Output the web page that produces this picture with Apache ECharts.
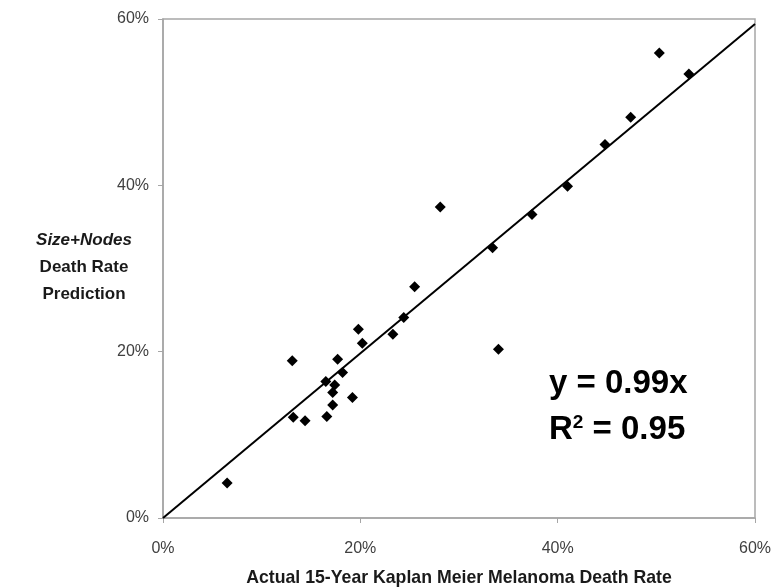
<!DOCTYPE html>
<html><head><meta charset="utf-8">
<script src="https://cdn.jsdelivr.net/npm/echarts@6/dist/echarts.min.js"></script>
<style>html,body{margin:0;padding:0;background:#fff}#c{width:774px;height:587px}</style>
</head><body><div id="c"></div>
<script>
var actual = [6.5,13.1,13.2,14.4,16.5,16.6,17.4,17.2,17.2,17.7,18.2,19.2,20.2,19.8,23.3,24.4,25.5,28.1,33.4,34.0,37.4,41.0,44.8,47.4,50.3,53.3];
var predicted = [4.2,18.9,12.1,11.7,16.4,12.2,16.0,15.1,13.6,19.1,17.5,14.5,21.0,22.7,22.1,24.1,27.8,37.4,32.5,20.3,36.5,39.9,44.9,48.2,55.9,53.4];
var slope = 0.99;
var rSquared = 0.95;
var axisTicks = [0,20,40,60];

var pts = actual.map(function(x,i){return [x,predicted[i]];});
var lineEnd = axisTicks[axisTicks.length-1];
var trend = [[0,0],[lineEnd, slope*lineEnd]];
var FF = 'Liberation Sans, Arial, sans-serif';

var chart = echarts.init(document.getElementById('c'));
var lab = {color:'#404040', fontFamily:FF, fontSize:16, formatter:'{value}%'};
chart.setOption({
  animation:false,
  grid:{left:163,top:19,right:19,bottom:69,containLabel:false,outerBoundsMode:'none',show:true,borderColor:'#a6a6a6',borderWidth:1.5},
  xAxis:{type:'value',min:0,max:60,interval:20,
    axisLine:{show:true,lineStyle:{color:'#a6a6a6',width:1.5}},
    axisTick:{show:true,length:5,lineStyle:{color:'#a6a6a6'}},
    splitLine:{show:false},
    axisLabel:Object.assign({margin:23},lab),
    name:'Actual 15-Year Kaplan Meier Melanoma Death Rate',nameLocation:'middle',nameGap:51,
    nameTextStyle:{color:'#1a1a1a',fontWeight:'bold',fontSize:17.7,fontFamily:FF}
  },
  yAxis:{type:'value',min:0,max:60,interval:20,
    axisLine:{show:true,lineStyle:{color:'#a6a6a6',width:1.5}},
    axisTick:{show:true,length:5,lineStyle:{color:'#a6a6a6'}},
    splitLine:{show:false},
    axisLabel:Object.assign({margin:14},lab)
  },
  graphic:[
    {type:'text',x:84,y:267,style:{text:'{i|Size+Nodes}\n{b|Death Rate}\n{b|Prediction}',align:'center',verticalAlign:'middle',
      rich:{i:{fontStyle:'italic',fontWeight:'bold',fontSize:17,lineHeight:27,fontFamily:FF,fill:'#1a1a1a',align:'center'},
            b:{fontWeight:'bold',fontSize:17,lineHeight:27,fontFamily:FF,fill:'#1a1a1a',align:'center'}}}},
    {type:'text',x:549,y:367,style:{text:'y = '+slope+'x',fontWeight:'bold',fontSize:33,fontFamily:FF,fill:'#000'}},
    {type:'text',x:549,y:413,style:{text:'{a|R}{s|2}{a| = '+rSquared+'}',
      rich:{a:{fontWeight:'bold',fontSize:33,fontFamily:FF,fill:'#000',verticalAlign:'bottom'},
            s:{fontWeight:'bold',fontSize:19,fontFamily:FF,fill:'#000',verticalAlign:'top',padding:[0,0,14,0]}}}}
  ],
  series:[
    {type:'line',data:trend,showSymbol:false,symbol:'none',lineStyle:{color:'#000',width:2},z:2},
    {type:'scatter',data:pts,symbol:'diamond',symbolSize:11,itemStyle:{color:'#000',opacity:1},z:3}
  ]
});
</script></body></html>
